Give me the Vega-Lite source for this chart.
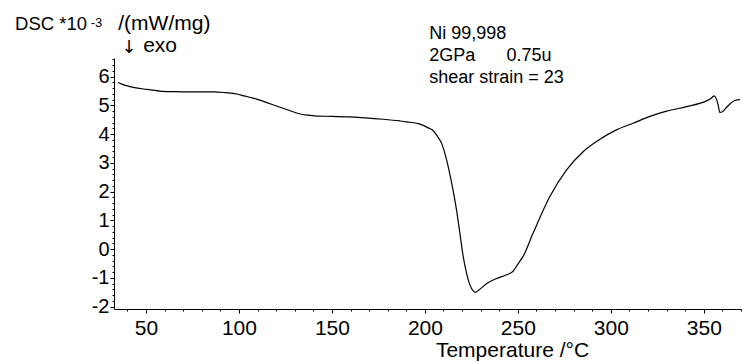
{
  "$schema": "https://vega.github.io/schema/vega-lite/v6.json",
  "width": 627,
  "height": 251,
  "autosize": {"type": "none"},
  "padding": {"left": 114, "top": 58, "right": 1, "bottom": 53},
  "background": "white",
  "config": {
    "view": {"stroke": null},
    "font": "Liberation Sans",
    "axis": {
      "grid": false,
      "domainColor": "black",
      "domainWidth": 1,
      "tickColor": "black",
      "tickWidth": 1,
      "labelColor": "black",
      "labelFont": "Liberation Sans",
      "titleFont": "Liberation Sans",
      "titleColor": "black",
      "titleFontWeight": "normal",
      "labelFlush": false,
      "labelBound": false
    }
  },
  "datasets": {
    "dsc": [
      {"T": 35.1, "v": 5.80}, {"T": 37, "v": 5.74}, {"T": 40, "v": 5.68},
      {"T": 43.2, "v": 5.63}, {"T": 50, "v": 5.56}, {"T": 57.5, "v": 5.50},
      {"T": 65, "v": 5.48}, {"T": 75.4, "v": 5.47}, {"T": 86.2, "v": 5.47},
      {"T": 92, "v": 5.45}, {"T": 97.8, "v": 5.41}, {"T": 103, "v": 5.33},
      {"T": 109.5, "v": 5.22}, {"T": 115, "v": 5.10}, {"T": 120.2, "v": 4.98},
      {"T": 126, "v": 4.85}, {"T": 131.9, "v": 4.72}, {"T": 137, "v": 4.66},
      {"T": 141.8, "v": 4.63}, {"T": 150, "v": 4.62}, {"T": 159.7, "v": 4.60},
      {"T": 168, "v": 4.57}, {"T": 177.6, "v": 4.52}, {"T": 186.6, "v": 4.46},
      {"T": 190.2, "v": 4.43}, {"T": 197.3, "v": 4.35}, {"T": 201.8, "v": 4.22},
      {"T": 204.5, "v": 4.12}, {"T": 207, "v": 3.90}, {"T": 209, "v": 3.68},
      {"T": 211.7, "v": 3.10}, {"T": 214.4, "v": 2.30}, {"T": 217, "v": 1.37},
      {"T": 218.8, "v": 0.56}, {"T": 220.6, "v": -0.25}, {"T": 222.4, "v": -0.83},
      {"T": 224.2, "v": -1.24}, {"T": 226, "v": -1.45}, {"T": 227, "v": -1.50},
      {"T": 229, "v": -1.42}, {"T": 233.1, "v": -1.20}, {"T": 238.5, "v": -1.02},
      {"T": 243.9, "v": -0.89}, {"T": 247.5, "v": -0.76}, {"T": 250, "v": -0.52},
      {"T": 252.8, "v": -0.25}, {"T": 258.2, "v": 0.56}, {"T": 267.2, "v": 1.83},
      {"T": 276.2, "v": 2.76}, {"T": 285.1, "v": 3.39}, {"T": 294.1, "v": 3.82},
      {"T": 303, "v": 4.15}, {"T": 312, "v": 4.38}, {"T": 321, "v": 4.62},
      {"T": 330, "v": 4.80}, {"T": 340.7, "v": 4.96}, {"T": 351.4, "v": 5.16},
      {"T": 354, "v": 5.25}, {"T": 355.5, "v": 5.33}, {"T": 356.8, "v": 5.22},
      {"T": 357.7, "v": 5.02}, {"T": 358.6, "v": 4.76}, {"T": 360, "v": 4.78},
      {"T": 362, "v": 4.92}, {"T": 364, "v": 5.05}, {"T": 366.7, "v": 5.17},
      {"T": 369.4, "v": 5.20}
    ],
    "notes": [
      {"T": 202.3, "v": 7.31, "text": "Ni 99,998"},
      {"T": 202.3, "v": 6.55, "text": "2GPa"},
      {"T": 243.9, "v": 6.55, "text": "0.75u"},
      {"T": 202.3, "v": 5.78, "text": "shear strain = 23"}
    ],
    "unitHead": [
      {"T": -20.4, "v": 7.62, "text": "DSC *10"}
    ],
    "unitTail": [
      {"T": 35.1, "v": 7.62, "text": "/(mW/mg)"},
      {"T": 48.5, "v": 6.85, "text": "exo"}
    ],
    "sup": [
      {"T": 20.3, "v": 7.74, "text": "-3"}
    ],
    "arrow": [
      {"T": 36.9, "v": 6.84, "text": "↓"}
    ]
  },
  "layer": [
    {
      "data": {"name": "dsc"},
      "mark": {"type": "line", "color": "black", "strokeWidth": 1.2, "interpolate": "monotone"},
      "encoding": {
        "x": {
          "field": "T",
          "type": "quantitative",
          "scale": {"domain": [32.8, 370], "nice": false, "zero": false},
          "axis": {
            "values": [40, 50, 60, 70, 80, 90, 100, 110, 120, 130, 140, 150, 160, 170, 180, 190, 200, 210, 220, 230, 240, 250, 260, 270, 280, 290, 300, 310, 320, 330, 340, 350, 360, 370],
            "tickCount": 200,
            "labelExpr": "datum.value % 50 === 0 ? '' + datum.value : ''",
            "labelOverlap": false,
            "tickSize": {"condition": {"test": "datum.value % 50 === 0", "value": 4}, "value": 2},
            "labelFontSize": 21,
            "labelPadding": 4,
            "title": "Temperature /°C",
            "titleFontSize": 21,
            "titleAnchor": "start",
            "titleAlign": "center",
            "titleBaseline": "alphabetic",
            "titleX": 398,
            "titleY": 47
          }
        },
        "y": {
          "field": "v",
          "type": "quantitative",
          "scale": {"domain": [-2.08, 6.65], "nice": false, "zero": false},
          "axis": {
            "values": [-2, -1.8, -1.6, -1.4, -1.2, -1, -0.8, -0.6, -0.4, -0.2, 0, 0.2, 0.4, 0.6, 0.8, 1, 1.2, 1.4, 1.6, 1.8, 2, 2.2, 2.4, 2.6, 2.8, 3, 3.2, 3.4, 3.6, 3.8, 4, 4.2, 4.4, 4.6, 4.8, 5, 5.2, 5.4, 5.6, 5.8, 6, 6.2, 6.4, 6.6],
            "tickCount": 200,
            "labelExpr": "abs(datum.value - round(datum.value)) < 0.001 ? '' + round(datum.value) : ''",
            "labelOverlap": false,
            "tickSize": {"condition": {"test": "abs(datum.value - round(datum.value)) < 0.001", "value": 4}, "value": 2},
            "labelFontSize": 20,
            "labelPadding": 1,
            "title": null
          }
        }
      }
    },
    {
      "data": {"name": "notes"},
      "mark": {"type": "text", "align": "left", "baseline": "alphabetic", "fontSize": 18, "color": "black", "font": "Liberation Sans"},
      "encoding": {
        "x": {"field": "T", "type": "quantitative"},
        "y": {"field": "v", "type": "quantitative"},
        "text": {"field": "text"}
      }
    },
    {
      "data": {"name": "unitHead"},
      "mark": {"type": "text", "align": "left", "baseline": "alphabetic", "fontSize": 18.5, "color": "black", "font": "Liberation Sans"},
      "encoding": {
        "x": {"field": "T", "type": "quantitative"},
        "y": {"field": "v", "type": "quantitative"},
        "text": {"field": "text"}
      }
    },
    {
      "data": {"name": "unitTail"},
      "mark": {"type": "text", "align": "left", "baseline": "alphabetic", "fontSize": 21, "color": "black", "font": "Liberation Sans"},
      "encoding": {
        "x": {"field": "T", "type": "quantitative"},
        "y": {"field": "v", "type": "quantitative"},
        "text": {"field": "text"}
      }
    },
    {
      "data": {"name": "sup"},
      "mark": {"type": "text", "align": "left", "baseline": "alphabetic", "fontSize": 13, "color": "black", "font": "Liberation Sans"},
      "encoding": {
        "x": {"field": "T", "type": "quantitative"},
        "y": {"field": "v", "type": "quantitative"},
        "text": {"field": "text"}
      }
    },
    {
      "data": {"name": "arrow"},
      "mark": {"type": "text", "align": "left", "baseline": "alphabetic", "fontSize": 18, "color": "black", "font": "DejaVu Sans"},
      "encoding": {
        "x": {"field": "T", "type": "quantitative"},
        "y": {"field": "v", "type": "quantitative"},
        "text": {"field": "text"}
      }
    }
  ]
}
